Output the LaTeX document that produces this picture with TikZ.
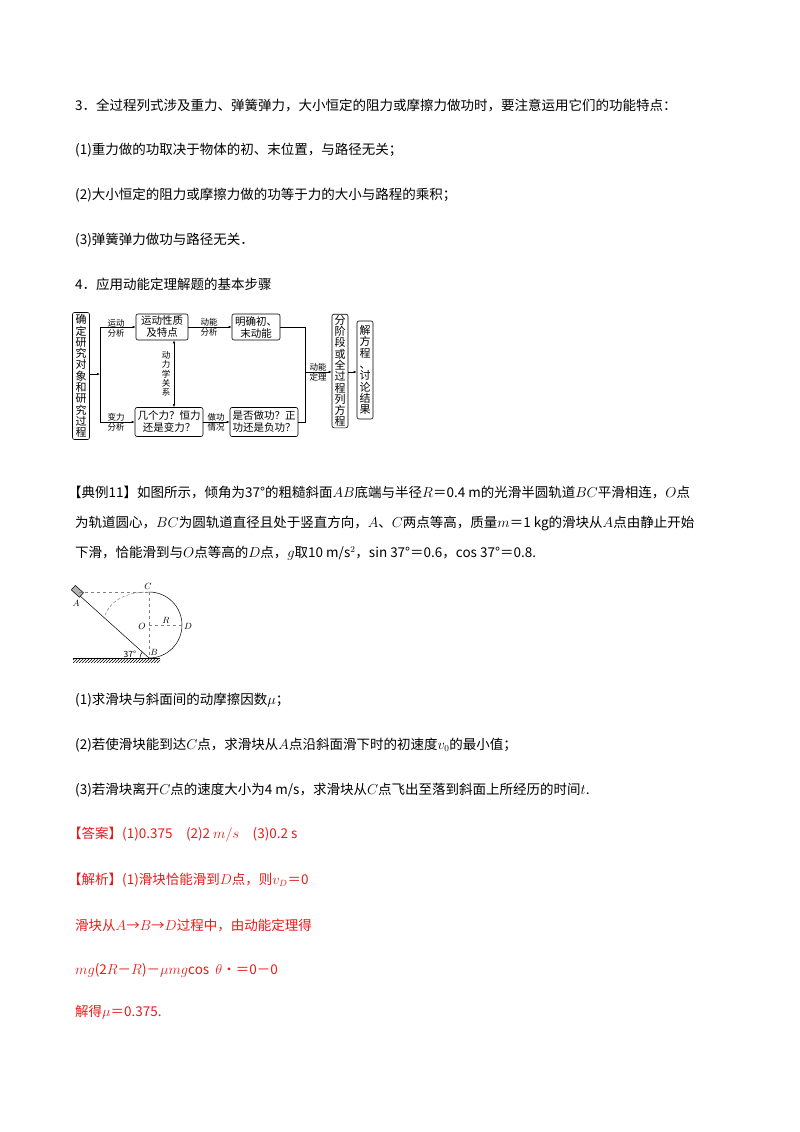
\documentclass[tikz,border=0pt]{standalone}
\usepackage{fontspec}
\setmainfont{Noto Sans CJK SC}
\usetikzlibrary{arrows.meta,patterns}
\definecolor{ansred}{rgb}{0.92,0.1,0.1}
\begin{document}
\begin{tikzpicture}[x=1pt,y=-1pt,
  txt/.style={anchor=west,inner sep=0pt,font=\fontsize{13.5}{16}\selectfont},
  red/.style={txt,text=ansred},
  fbox/.style={draw,rounded corners=2pt,align=center,inner sep=1pt,font=\fontsize{10.5}{12}\selectfont},
  vbox/.style={draw,rounded corners=2pt,align=center,inner sep=1pt,font=\fontsize{11}{11.3}\selectfont},
  lab/.style={align=center,inner sep=0pt,font=\fontsize{8.5}{10}\selectfont},
  arr/.style={-{Latex[length=3pt,width=2.5pt]}},
  ln/.style={line width=0.6pt}]
\useasboundingbox (0,0) rectangle (800,1132);
\node[txt] (t1) at (75,105) {3．全过程列式涉及重力、弹簧弹力，大小恒定的阻力或摩擦力做功时，要注意运用它们的功能特点：};
\node[txt] (t2) at (75,150) {(1)重力做的功取决于物体的初、末位置，与路径无关；};
\node[txt] (t3) at (75,195) {(2)大小恒定的阻力或摩擦力做的功等于力的大小与路程的乘积；};
\node[txt] (t4) at (75,240) {(3)弹簧弹力做功与路径无关．};
\node[txt] (t5) at (75,284) {4．应用动能定理解题的基本步骤};
% flowchart
\begin{scope}[ln]
\node[vbox,minimum width=17pt,minimum height=127pt] (b1) at (81,376) {确\\定\\研\\究\\对\\象\\和\\研\\究\\过\\程};
\node[fbox,minimum width=52pt,minimum height=26pt] (b2) at (162,327) {运动性质\\及特点};
\node[fbox,minimum width=48pt,minimum height=26pt] (b3) at (256,327) {明确初、\\末动能};
\node[fbox,minimum width=68pt,minimum height=29pt] (b4) at (169,422) {几个力？恒力\\还是变力？};
\node[fbox,minimum width=68pt,minimum height=29pt] (b5) at (264,422) {是否做功？正\\功还是负功？};
\node[vbox,minimum width=16pt,minimum height=113pt] (b6) at (340,371) {分\\阶\\段\\或\\全\\过\\程\\列\\方\\程};
\node[vbox,minimum width=16pt,minimum height=98pt] (b7) at (365,370) {解\\方\\程\\、\\讨\\论\\结\\果};
\coordinate (s) at (100,374);
\draw[arr] (b1.east|-s) -- (s);
\draw (100,327) -- (100,422);
\draw[arr] (100,327) -- (b2.west);
\draw[arr] (100,422) -- (b4.west);
\node[lab] at (116,328) {运动\\分析};
\node[lab] at (116,422) {变力\\分析};
\draw[arr] (b2.east) -- (b3.west);
\node[lab] at (209,327) {动能\\分析};
\draw[arr] (b4.east) -- (b5.west);
\node[lab] at (216,422) {做功\\情况};
\coordinate (v) at (174,0);
\draw[{Latex[length=3pt,width=2.5pt]}-{Latex[length=3pt,width=2.5pt]}] (v|-b2.south) -- (v|-b4.north);
\node[lab,align=center,font=\fontsize{8.5}{9.3}\selectfont] at (166,374) {动\\力\\学\\关\\系};
\draw (b3.east) -- (305,327) -- (305,422) -- (b5.east);
\coordinate (m) at (305,372);
\draw[arr] (m) -- (b6.west|-m);
\node[lab] at (318,372) {动能\\定理};
\draw[arr] (b6.east|-m) -- (b7.west|-m);
\end{scope}
% example text
\node[txt] (e1) at (68,493) {【典例11】如图所示，倾角为37°的粗糙斜面$AB$底端与半径$R$＝0.4 m的光滑半圆轨道$BC$平滑相连，$O$点};
\node[txt] (e2) at (75,523) {为轨道圆心，$BC$为圆轨道直径且处于竖直方向，$A$、$C$两点等高，质量$m$＝1 kg的滑块从$A$点由静止开始};
\node[txt] (e3) at (75,553) {下滑，恰能滑到与$O$点等高的$D$点，$g$取10 m/s$^2$，sin 37°＝0.6，cos 37°＝0.8.};
% physics figure
\begin{scope}[line width=0.5pt]
\fill[pattern=north east lines] (73,658) rectangle (160,662);
\draw (73,658) -- (160,658);
\coordinate (B) at (149,658);
\coordinate (A) at (79,595);
\coordinate (C) at (149,592);
\coordinate (O) at (149,625);
\coordinate (D) at (182,625);
\draw (B) -- (A);
\draw[fill=gray!60,rotate around={-42:(77,591)}] (72,588) rectangle (83,594);
\draw (C) arc (-90:90:33);
\draw[dashed,gray] (A) ++(0,-3) -- (C);
\draw[dashed,gray] (C) -- (B);
\draw[dashed,gray] (O) -- (D);
\draw[densely dashed,gray] (C) .. controls (120,592) and (108,605) .. (104,618);
\node[inner sep=0pt] at (76,603) {\fontsize{9}{10}\selectfont $A$};
\node[inner sep=0pt] at (148,586) {\fontsize{9}{10}\selectfont $C$};
\node[inner sep=0pt] at (142,626) {\fontsize{9}{10}\selectfont $O$};
\node[inner sep=0pt] at (166,620) {\fontsize{9}{10}\selectfont $R$};
\node[inner sep=0pt] at (188,626) {\fontsize{9}{10}\selectfont $D$};
\node[inner sep=0pt] at (154,652) {\fontsize{9}{10}\selectfont $B$};
\node[inner sep=0pt] at (130,654) {\fontsize{8.5}{10}\selectfont 37°};
\draw (140,658) arc (180:222:9);
\end{scope}
\node[txt] (q1) at (75,700) {(1)求滑块与斜面间的动摩擦因数$\mu$；};
\node[txt] (q2) at (75,745) {(2)若使滑块能到达$C$点，求滑块从$A$点沿斜面滑下时的初速度$v_0$的最小值；};
\node[txt] (q3) at (75,790) {(3)若滑块离开$C$点的速度大小为4 m/s，求滑块从$C$点飞出至落到斜面上所经历的时间$t$.};
\node[red] (r1) at (68,835) {【答案】(1)0.375\quad(2)2 $m/s$\quad(3)0.2 s};
\node[red] (r2) at (68,880) {【解析】(1)滑块恰能滑到$D$点，则$v_D$＝0};
\node[red] (r3) at (75,925) {滑块从$A$→$B$→$D$过程中，由动能定理得};
\node[red] (r4) at (75,970) {$mg$(2$R$－$R$)－$\mu mg$cos\ \ $\theta$·＝0－0};
\node[red] (r5) at (75,1012) {解得$\mu$＝0.375.};
\end{tikzpicture}
\end{document}
